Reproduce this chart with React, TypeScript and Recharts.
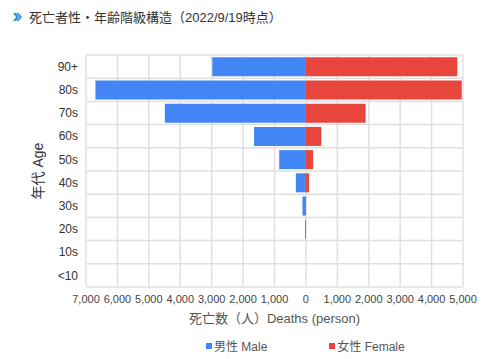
import { Bar, BarChart, CartesianGrid, Label, Legend, XAxis, YAxis } from 'recharts'

const ageGroups = ['90+', '80s', '70s', '60s', '50s', '40s', '30s', '20s', '10s', '<10']
const maleDeaths = [2980, 6700, 4490, 1650, 850, 320, 110, 30, 0, 0]
const femaleDeaths = [4820, 4960, 1900, 490, 230, 100, 5, 0, 0, 0]
const xTicks = [-7000, -6000, -5000, -4000, -3000, -2000, -1000, 0, 1000, 2000, 3000, 4000, 5000]

const MALE = '#4285f4'
const FEMALE = '#e8453c'
const FONT = '"Liberation Sans", Arial, "Noto Sans CJK JP", sans-serif'

const data = ageGroups.map((age, i) => ({
  age,
  male: -maleDeaths[i],
  female: femaleDeaths[i],
}))

const legendItems = [
  { name: '男性 Male', color: MALE },
  { name: '女性 Female', color: FEMALE },
]

function PyramidLegend() {
  return (
    <div style={{ display: 'flex', paddingLeft: 166, gap: 62, fontSize: 12, color: '#555', fontFamily: FONT }}>
      {legendItems.map((it) => (
        <span key={it.name} style={{ display: 'flex', alignItems: 'center' }}>
          <span style={{ width: 6, height: 6, background: it.color, marginRight: 2, display: 'inline-block' }} />
          {it.name}
        </span>
      ))}
    </div>
  )
}

export default function App() {
  return (
    <div style={{ position: 'absolute', left: 0, top: 0, width: 484, height: 359, background: '#fff', fontFamily: FONT }}>
      <div style={{ position: 'absolute', left: 13, top: 8, fontSize: 13, color: '#333', display: 'flex', alignItems: 'center', height: 17 }}>
        <svg width={9} height={8} style={{ marginRight: 7 }}>
          <path d="M0 0 L3 0 L6 4 L3 8 L0 8 L3 4 Z M3.5 0 L5.5 0 L9 4 L5.5 8 L3.5 8 L6.5 4 Z" fill="#2f8fe0" />
        </svg>
        死亡者性・年齢階級構造（2022/9/19時点）
      </div>
      <BarChart
        width={484}
        height={359}
        data={data}
        layout="vertical"
        stackOffset="sign"
        barCategoryGap="10%"
        margin={{ top: 55, right: 21, left: 40, bottom: 12 }}
      >
        <CartesianGrid
          stroke="#e0e0e0"
          strokeWidth={1.5}
          horizontalCoordinatesGenerator={({ offset }: any) =>
            Array.from({ length: ageGroups.length + 1 }, (_, i) => offset.top + (i * offset.height) / ageGroups.length)
          }
        />
        <XAxis
          type="number"
          domain={[-7000, 5000]}
          ticks={xTicks}
          axisLine={false}
          tickLine={false}
          height={40}
          interval={0}
          tick={{ fontSize: 11, fill: '#444' }}
          tickFormatter={(v: number) => Math.abs(v).toLocaleString('en-US')}
        >
          <Label value="死亡数（人）Deaths (person)" position="insideBottom" offset={4} style={{ fontSize: 13, fill: '#555' }} />
        </XAxis>
        <YAxis
          type="category"
          dataKey="age"
          width={46}
          axisLine={false}
          tickLine={false}
          tick={{ fontSize: 12, fill: '#333' }}
        >
          <Label value="年代 Age" angle={-90} position="left" offset={2} style={{ fontSize: 14, fill: '#333', textAnchor: 'middle' }} />
        </YAxis>
        <Legend verticalAlign="bottom" content={() => <PyramidLegend />} wrapperStyle={{ top: 337, bottom: 'auto', height: 20 }} />
        <Bar dataKey="male" name="男性 Male" stackId="a" fill={MALE} isAnimationActive={false} />
        <Bar dataKey="female" name="女性 Female" stackId="a" fill={FEMALE} isAnimationActive={false} />
      </BarChart>
    </div>
  )
}
